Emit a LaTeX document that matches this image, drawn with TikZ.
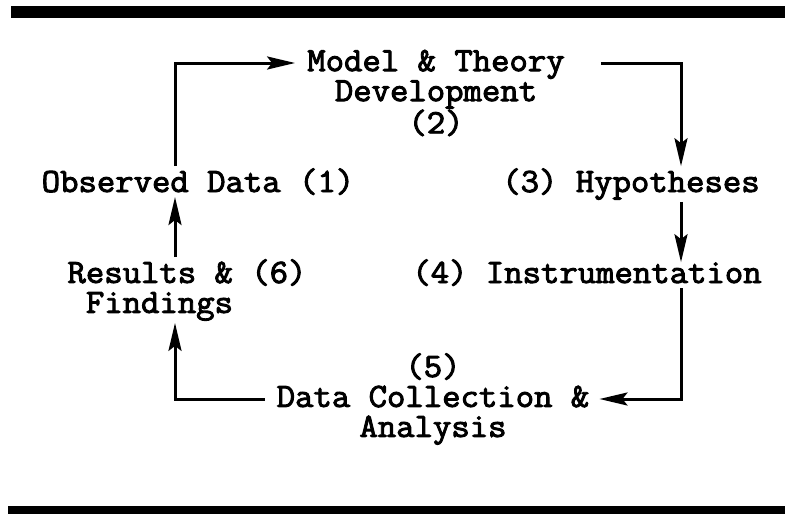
\documentclass[tikz,border=0pt]{standalone}
\usepackage{fontspec}
\setmonofont{Latin Modern Mono}[AutoFakeBold=2.8,FakeStretch=1.05]
\usetikzlibrary{arrows.meta}

\begin{document}
\begin{tikzpicture}[x=1pt,y=-1pt]
    \tikzstyle{stage}=[font=\ttfamily\bfseries\fontsize{34}{30}\selectfont,inner sep=2pt,align=center]
    \tikzstyle{flow}=[-{Stealth[length=28pt,width=13pt,inset=5pt]},line width=3pt]
    \useasboundingbox (0,0) rectangle (785,514);

    % rules above and below
    \fill (11,6) rectangle (785,18);
    \fill (8,506) rectangle (785,514);

    % the six stages
    \node[stage] (M) at (436,93) {Model \& Theory\\Development\\(2)};
    \node[stage,anchor=base] (O) at (198,192) {Observed Data (1)};
    \node[stage,anchor=base] (H) at (631,192) {(3) Hypotheses};
    \node[stage,anchor=base] (I) at (587,283) {(4) Instrumentation};
    \node[stage] (D) at (433,399) {(5)\\Data Collection \&\\Analysis};
    \node[stage,align=left] (F) at (187,290) {Results \& (6)\\\phantom{R}Findings};

    \coordinate (L) at (175,63);
    \coordinate (R) at (681,63);

    \draw[flow] (O.north -| L) -- (L) -- ([xshift=-10pt]L -| M.west);
    \draw[flow] ([xshift=34pt]M.east |- R) -- (R) -- (R |- H.north);
    \draw[flow] (H.south -| R) -- ([yshift=-5pt]I.north -| R);
    \draw[flow] (I.south -| R) |- ([xshift=8pt]D.east);
    \draw[flow] ([xshift=-10pt]D.west) -| (F.south -| L);
    \draw[flow] (F.north -| L) -- (O.south -| L);
\end{tikzpicture}
\end{document}
